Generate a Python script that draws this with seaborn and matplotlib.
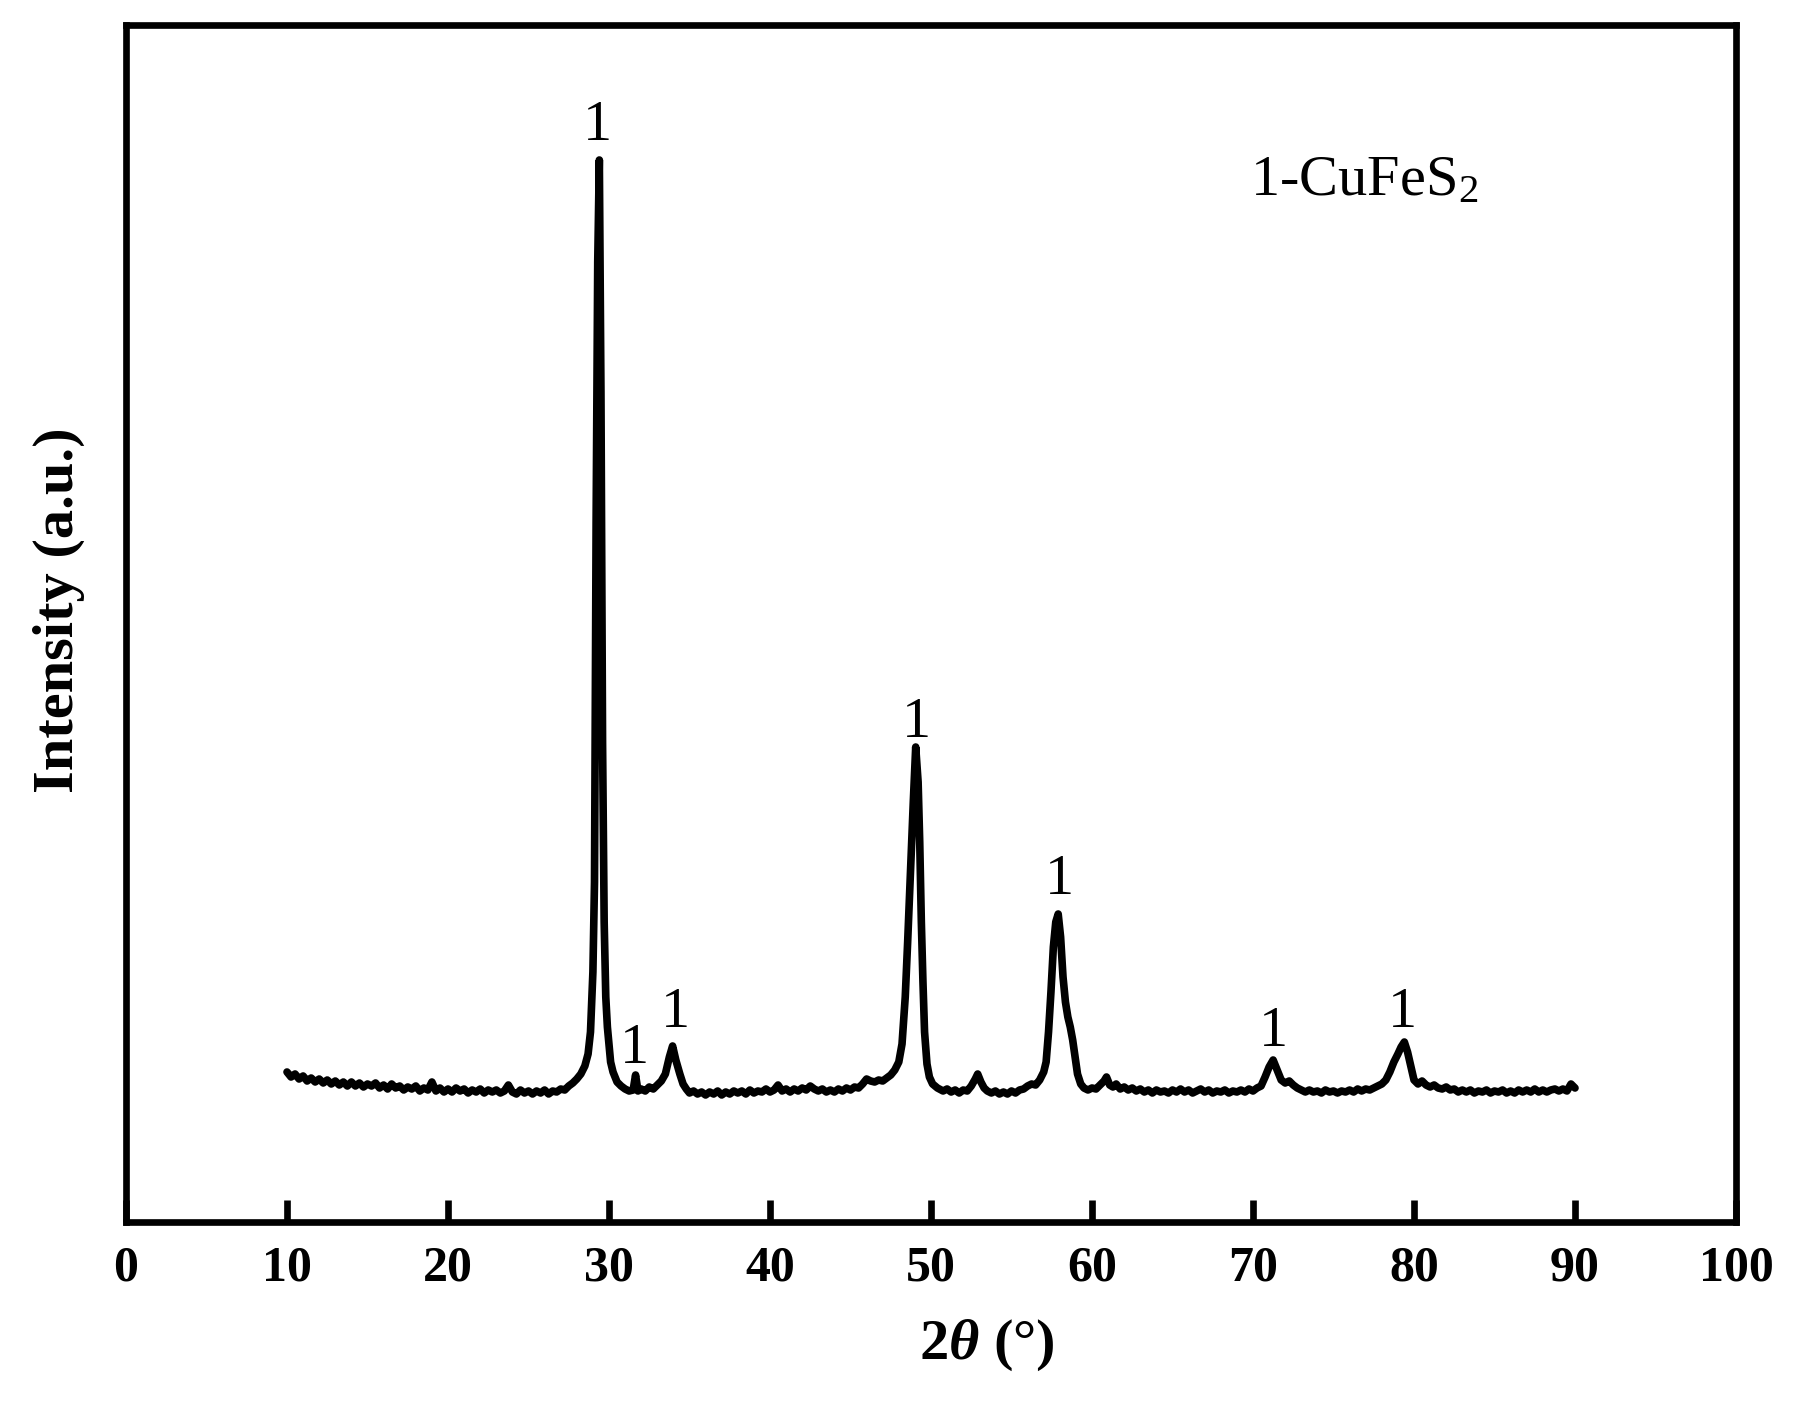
import matplotlib
matplotlib.use('Agg')
import matplotlib.pyplot as plt
import seaborn as sns

# XRD pattern (2theta in degrees, intensity in a.u.)
two_theta = [
    10.0, 10.25, 10.5, 10.75, 11.0, 11.25, 11.5, 11.75, 12.0, 12.25,
    12.5, 12.75, 13.0, 13.25, 13.5, 13.75, 14.0, 14.25, 14.5, 14.75,
    15.0, 15.25, 15.5, 15.75, 16.0, 16.25, 16.5, 16.75, 17.0, 17.25,
    17.5, 17.75, 18.0, 18.25, 18.5, 18.75, 19.0, 19.25, 19.5, 19.75,
    20.0, 20.25, 20.5, 20.75, 21.0, 21.25, 21.5, 21.75, 22.0, 22.25,
    22.5, 22.75, 23.0, 23.25, 23.5, 23.75, 24.0, 24.25, 24.5, 24.75,
    25.0, 25.25, 25.5, 25.75, 26.0, 26.25, 26.5, 26.75, 27.0, 27.25,
    27.5, 27.75, 28.0, 28.25, 28.5, 28.7, 28.85, 29.0, 29.1, 29.2,
    29.3, 29.4, 29.5, 29.6, 29.7, 29.8, 29.9, 30.0, 30.1, 30.25,
    30.5, 30.75, 31.0, 31.25, 31.5, 31.65, 31.8, 32.0, 32.25, 32.5,
    32.75, 33.0, 33.25, 33.5, 33.75, 33.95, 34.15, 34.4, 34.6, 34.8,
    35.0, 35.25, 35.5, 35.75, 36.0, 36.25, 36.5, 36.75, 37.0, 37.25,
    37.5, 37.75, 38.0, 38.25, 38.5, 38.75, 39.0, 39.25, 39.5, 39.75,
    40.0, 40.25, 40.5, 40.75, 41.0, 41.25, 41.5, 41.75, 42.0, 42.25,
    42.5, 42.75, 43.0, 43.25, 43.5, 43.75, 44.0, 44.25, 44.5, 44.75,
    45.0, 45.25, 45.5, 45.75, 46.0, 46.25, 46.5, 46.75, 47.0, 47.25,
    47.5, 47.75, 48.0, 48.2, 48.4, 48.55, 48.7, 48.9, 49.05, 49.2,
    49.3, 49.4, 49.5, 49.6, 49.75, 49.9, 50.1, 50.4, 50.75, 51.0,
    51.25, 51.5, 51.75, 52.0, 52.25, 52.5, 52.75, 52.9, 53.1, 53.3,
    53.5, 53.75, 54.0, 54.25, 54.5, 54.75, 55.0, 55.25, 55.5, 55.75,
    56.0, 56.25, 56.5, 56.75, 57.0, 57.15, 57.3, 57.45, 57.6, 57.75,
    57.9, 58.05, 58.2, 58.35, 58.5, 58.65, 58.8, 58.95, 59.1, 59.3,
    59.5, 59.75, 60.0, 60.25, 60.5, 60.75, 60.9, 61.1, 61.3, 61.5,
    61.75, 62.0, 62.25, 62.5, 62.75, 63.0, 63.25, 63.5, 63.75, 64.0,
    64.25, 64.5, 64.75, 65.0, 65.25, 65.5, 65.75, 66.0, 66.25, 66.5,
    66.75, 67.0, 67.25, 67.5, 67.75, 68.0, 68.25, 68.5, 68.75, 69.0,
    69.25, 69.5, 69.75, 70.0, 70.25, 70.5, 70.75, 71.0, 71.25, 71.5,
    71.75, 72.0, 72.25, 72.5, 72.75, 73.0, 73.25, 73.5, 73.75, 74.0,
    74.25, 74.5, 74.75, 75.0, 75.25, 75.5, 75.75, 76.0, 76.25, 76.5,
    76.75, 77.0, 77.25, 77.5, 77.75, 78.0, 78.25, 78.5, 78.75, 79.0,
    79.2, 79.4, 79.6, 79.8, 80.0, 80.25, 80.5, 80.75, 81.0, 81.25,
    81.5, 81.75, 82.0, 82.25, 82.5, 82.75, 83.0, 83.25, 83.5, 83.75,
    84.0, 84.25, 84.5, 84.75, 85.0, 85.25, 85.5, 85.75, 86.0, 86.25,
    86.5, 86.75, 87.0, 87.25, 87.5, 87.75, 88.0, 88.25, 88.5, 88.75,
    89.0, 89.25, 89.5, 89.75, 90.0,
]
intensity = [
    150, 145, 148, 143, 146, 141, 144, 140, 143, 139,
    142, 138, 141, 137, 140, 136, 140, 136, 139, 135,
    138, 136, 139, 134, 137, 133, 138, 134, 136, 132,
    135, 133, 136, 131, 134, 132, 140, 131, 134, 130,
    133, 130, 134, 131, 133, 129, 132, 130, 133, 129,
    132, 130, 132, 129, 131, 137, 130, 128, 132, 129,
    131, 128, 131, 129, 132, 128, 131, 130, 133, 132,
    136, 139, 143, 148, 156, 168, 190, 250, 340, 700,
    960, 1062, 830, 480, 300, 225, 195, 178, 160, 150,
    140, 136, 133, 131, 132, 147, 131, 133, 131, 135,
    133, 137, 141, 148, 165, 176, 162, 148, 138, 133,
    129, 131, 128, 130, 127, 130, 128, 131, 127, 130,
    128, 131, 129, 131, 128, 132, 129, 131, 130, 133,
    130, 132, 137, 131, 133, 130, 133, 131, 134, 132,
    136, 133, 131, 133, 130, 132, 130, 133, 131, 134,
    132, 135, 134, 138, 143, 141, 140, 142, 141, 144,
    147, 152, 160, 178, 225, 280, 340, 420, 475, 440,
    380, 300, 240, 190, 158, 145, 138, 134, 131, 133,
    130, 132, 129, 132, 131, 136, 143, 148, 140, 134,
    131, 129, 131, 128, 130, 128, 131, 129, 132, 133,
    136, 138, 137, 142, 150, 160, 190, 230, 275, 300,
    308, 285, 245, 220, 205, 195, 182, 165, 148, 138,
    134, 132, 134, 133, 137, 141, 145, 137, 135, 138,
    133, 135, 132, 134, 131, 133, 130, 132, 129, 132,
    130, 131, 129, 132, 130, 133, 130, 132, 129, 131,
    133, 130, 132, 129, 131, 130, 132, 129, 131, 130,
    132, 130, 133, 131, 134, 136, 145, 155, 162, 152,
    142, 139, 141, 137, 134, 132, 130, 132, 130, 131,
    129, 132, 130, 131, 129, 131, 130, 132, 130, 133,
    131, 133, 132, 134, 136, 138, 142, 150, 160, 168,
    175, 180, 170, 156, 142, 138, 141, 137, 135, 137,
    134, 133, 135, 132, 133, 130, 132, 130, 132, 129,
    131, 130, 132, 129, 131, 130, 132, 129, 131, 129,
    132, 130, 132, 130, 133, 130, 132, 130, 132, 133,
    131, 133, 131, 138, 134,
]

# phase markers "1" above the peaks
marker_x = [29.3, 31.55, 34.15, 49.1, 57.95, 71.25, 79.3]
marker_y = [1082, 159, 195, 485, 328, 176, 195]
marker_text = '1'

x_ticks = [0, 10, 20, 30, 40, 50, 60, 70, 80, 90, 100]

sns.set_theme(style='white')
plt.rcParams['font.family'] = ['Liberation Serif', 'DejaVu Serif']
plt.rcParams['text.color'] = 'black'
plt.rcParams['axes.labelcolor'] = 'black'
plt.rcParams['xtick.color'] = 'black'
plt.rcParams['mathtext.fontset'] = 'custom'
plt.rcParams['mathtext.rm'] = 'Liberation Serif'
plt.rcParams['mathtext.it'] = 'Liberation Serif:italic'
plt.rcParams['mathtext.bf'] = 'Liberation Serif:bold'
plt.rcParams['mathtext.bfit'] = 'Liberation Serif:italic:bold'

fig = plt.figure(figsize=(17.97, 14.10), dpi=100)
ax = fig.add_axes([126 / 1797, 188 / 1410, 1610 / 1797, 1197 / 1410])

sns.lineplot(x=two_theta, y=intensity, color='black', linewidth=5.5, ax=ax)

for xm, ym in zip(marker_x, marker_y):
    ax.text(xm, ym, marker_text, ha='center', va='baseline', fontsize=42, color='black')

ax.text(69.8, 1027, r'1-CuFeS$_\mathregular{2}$', ha='left', va='baseline',
        fontsize=42, color='black')

ax.set_xlim(0, 100)
ax.set_ylim(0, 1197)
ax.set_xticks(x_ticks)
ax.set_yticks([])

for sp in ax.spines.values():
    sp.set_visible(True)
    sp.set_color('black')
    sp.set_linewidth(4.8)

ax.tick_params(axis='x', direction='in', length=16, width=4.8, color='black',
               labelcolor='black', labelsize=36, pad=17, bottom=True, top=False)
ax.tick_params(axis='y', left=False, labelleft=False)
for lab in ax.get_xticklabels():
    lab.set_fontweight('bold')

ax.set_xlabel(r'2$\mathbfit{\theta}$ (°)', fontsize=42, fontweight='bold', color='black')
ax.xaxis.set_label_coords(0.535, -0.080)
ax.xaxis.label.set_va('top')
ax.set_ylabel('Intensity (a.u.)', fontsize=42, fontweight='bold', color='black')
ax.yaxis.set_label_coords(-0.0255, 0.511)

fig.savefig('out.png', dpi=100, facecolor='white')
